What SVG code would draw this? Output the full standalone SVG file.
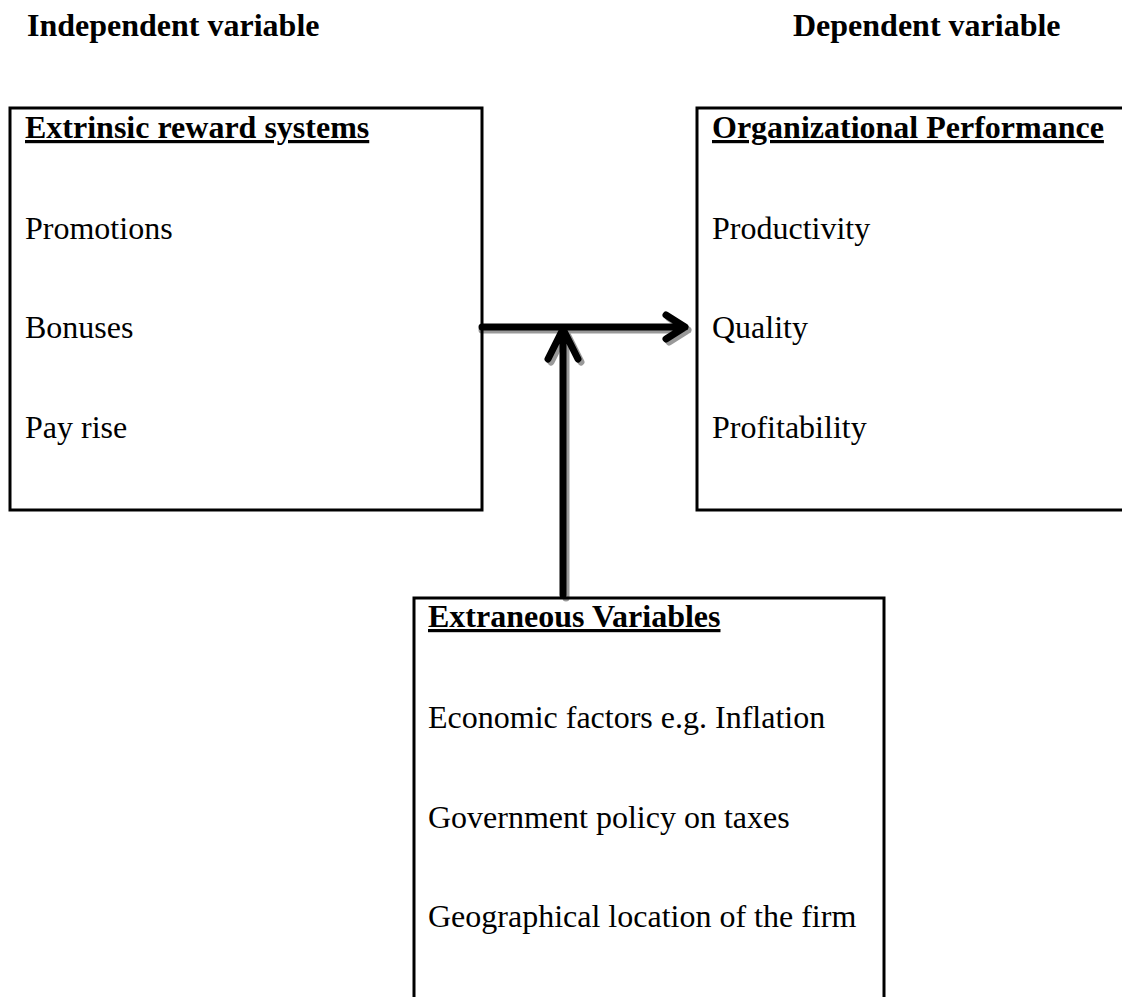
<svg xmlns="http://www.w3.org/2000/svg" width="1122" height="997" viewBox="0 0 1122 997">
<style>
text{font-family:"Liberation Serif","Times New Roman",serif;font-size:32px;fill:#000}
.b{font-weight:bold}
.u{text-decoration:underline}
.box{fill:none;stroke:#000;stroke-width:3}
.ln{fill:none;stroke:#000;stroke-width:7;stroke-linecap:round;stroke-linejoin:round}
.sh{fill:none;stroke:#999;stroke-width:7;stroke-linecap:round;stroke-linejoin:round}
</style>
<rect width="1122" height="997" fill="#fff"/>
<text class="b" x="27" y="36">Independent variable</text>
<text class="b" x="793" y="36">Dependent variable</text>
<g id="connectors">
<path class="sh" d="M482 330 H688 M669 318 L688 330 L669 342"/>
<path class="sh" d="M566 598 V332 M551 362 L566 332 L581 362"/>
<path class="ln" d="M482 327 H685 M666 315 L685 327 L666 339"/>
<path class="ln" d="M563 595 V329 M548 359 L563 329 L578 359"/>
</g>
<g id="extrinsic">
<rect class="box" x="10" y="108" width="472" height="402"/>
<text class="b u" x="25" y="138">Extrinsic reward systems</text>
<text x="25" y="239">Promotions</text>
<text x="25" y="338">Bonuses</text>
<text x="25" y="438">Pay rise</text>
</g>
<g id="performance">
<rect class="box" x="697" y="108" width="440" height="402"/>
<text class="b u" x="712" y="138">Organizational Performance</text>
<text x="712" y="239">Productivity</text>
<text x="712" y="338">Quality</text>
<text x="712" y="438">Profitability</text>
</g>
<g id="extraneous">
<rect class="box" x="414" y="598" width="470" height="420"/>
<text class="b u" x="428" y="627">Extraneous Variables</text>
<text x="428" y="728">Economic factors e.g. Inflation</text>
<text x="428" y="828">Government policy on taxes</text>
<text x="428" y="927">Geographical location of the firm</text>
</g>
</svg>
